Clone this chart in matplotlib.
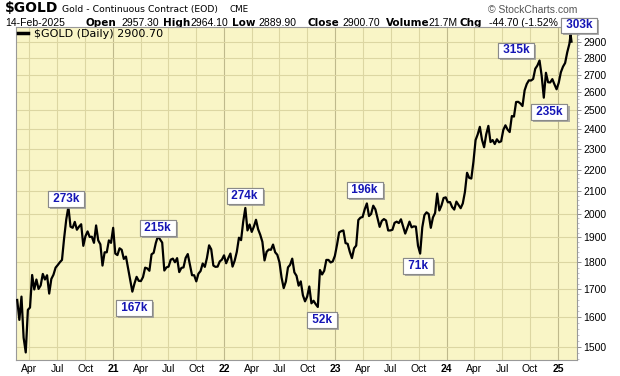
import matplotlib
matplotlib.use('Agg')
import matplotlib.pyplot as plt
import matplotlib.ticker as mticker
import matplotlib.patheffects as pe
import numpy as np
import pandas as pd

plt.rcParams['font.family'] = ['Liberation Sans', 'DejaVu Sans']

# weekly closes (Fridays)
gold_2020 = [1660, 1590,
             1672, 1530, 1482, 1625,
             1633, 1752, 1698, 1735,
             1700, 1713, 1756, 1735, 1751,
             1683, 1737, 1753, 1780,
             1790, 1801, 1810, 1897, 1975,
             2030, 1945, 1940, 1965,
             1932, 1945, 1955, 1866,
             1905, 1925, 1902, 1903, 1878,
             1950, 1888, 1872, 1788,
             1840, 1840, 1888, 1878]
gold_2021 = [1940, 1835, 1829, 1856, 1850,
             1814, 1823, 1777, 1734,
             1690, 1720, 1745, 1730,
             1729, 1744, 1780, 1777, 1768,
             1832, 1838, 1877, 1905,
             1892, 1879, 1769, 1781,
             1784, 1811, 1815, 1801, 1817,
             1763, 1779, 1781, 1818,
             1833, 1792, 1751, 1751,
             1728, 1757, 1767, 1796, 1783,
             1818, 1868, 1852, 1788,
             1783, 1784, 1804, 1811, 1828]
gold_2022 = [1797, 1817, 1835, 1784,
             1807, 1842, 1899, 1889,
             1966, 2025, 1929, 1954,
             1923, 1945, 1974, 1934, 1911,
             1882, 1808, 1842, 1851,
             1850, 1871, 1840, 1830,
             1801, 1742, 1703, 1727, 1781,
             1791, 1815, 1762, 1749,
             1712, 1728, 1677, 1655, 1672,
             1709, 1648, 1657, 1645,
             1635, 1771, 1754, 1768,
             1810, 1810, 1800, 1804, 1826]
gold_2023 = [1870, 1921, 1926, 1929,
             1877, 1874, 1842, 1817,
             1856, 1867, 1973, 1983, 1986,
             2019, 2045, 1990, 1999,
             2035, 2019, 1981, 1944,
             1969, 1977, 1971, 1929, 1929,
             1932, 1961, 1966, 1960,
             1976, 1946, 1916, 1940,
             1966, 1942, 1946, 1945, 1866,
             1835, 1942, 1994, 2006,
             1999, 1940, 1984, 2003,
             2089, 2014, 2036, 2069, 2072]
gold_2024 = [2050, 2051, 2029, 2018,
             2053, 2038, 2024, 2045,
             2096, 2185, 2161, 2158, 2238,
             2345, 2374, 2413, 2347,
             2309, 2375, 2418, 2335, 2345,
             2325, 2349, 2334, 2339,
             2397, 2421, 2399, 2386,
             2470, 2467, 2546, 2547, 2538,
             2524, 2611, 2647, 2668,
             2667, 2676, 2736, 2755,
             2785, 2694, 2570, 2712, 2657,
             2656, 2675, 2645, 2617]
gold_2025 = [2654, 2715, 2748, 2770, 2835, 2887]
last_dates = ['2025-02-11', '2025-02-14']
last_prices = [2945, 2900.70]

label_text = ['273k', '167k', '215k', '274k', '52k', '196k', '71k', '315k', '235k', '303k']
label_dates = ['2020-07-30', '2021-03-10', '2021-05-28', '2022-03-09', '2022-11-17',
               '2023-04-07', '2023-09-28', '2024-08-16', '2024-12-03', '2025-03-11']
label_levels = [2065, 1632, 1940, 2078, 1590, 2105, 1787, 2847, 2491, 3004]

y_ticks = list(range(1500, 3000, 100))

weekly = gold_2020 + gold_2021 + gold_2022 + gold_2023 + gold_2024 + gold_2025
dates = pd.date_range('2020-02-21', periods=len(weekly), freq='W-FRI')
dates = dates.append(pd.to_datetime(last_dates))
prices = np.array(weekly + last_prices, dtype=float)

W, H = 620, 376
fig = plt.figure(figsize=(W / 100, H / 100), dpi=100)
ax = fig.add_axes([16 / W, 1 - 360 / H, 561 / W, 333 / H])
ax.set_zorder(10)
ax.set_facecolor('#F9F5C6')

ax.plot(dates, prices, color='black', lw=1.6, label='$GOLD (Daily) 2900.70', zorder=3)

ax.set_yscale('log')
ax.set_ylim(1458, 2994)
ax.yaxis.set_major_locator(mticker.FixedLocator(y_ticks))
ax.yaxis.set_major_formatter(mticker.FuncFormatter(lambda v, p: '%d' % v))
ax.yaxis.set_minor_locator(mticker.FixedLocator(range(1460, 3000, 20)))
ax.yaxis.set_minor_formatter(mticker.NullFormatter())
ax.yaxis.tick_right()
ax.tick_params(axis='y', which='major', labelsize=7.5, length=3, width=0.6, color='#777777', pad=1.5)
ax.tick_params(axis='y', which='minor', length=1.5, width=0.5, color='#aaaaaa')

ax.set_xlim(pd.Timestamp('2020-02-17'), pd.Timestamp('2025-03-04'))
quarters = pd.date_range('2020-04-01', '2025-01-01', freq='QS')
ax.set_xticks(quarters)
ax.set_xticklabels([q.strftime('%y') if q.month == 1 else q.strftime('%b') for q in quarters])
for q, lab in zip(quarters, ax.get_xticklabels()):
    if q.month == 1:
        lab.set_fontweight('bold')
ax.tick_params(axis='x', labelsize=7.5, length=0, pad=3)

ax.grid(True, which='major', color='#DCD6A2', lw=0.8)
ax.set_axisbelow(True)
for q, gl in zip(quarters, ax.get_xgridlines()):
    if q.month == 1:
        gl.set_color('#BFB98C')

for s in ax.spines.values():
    s.set_color('#999999')
    s.set_linewidth(0.8)

leg = ax.legend(loc='upper left', frameon=False, handlelength=0.9, handletextpad=0.5,
                borderaxespad=0.1, borderpad=0.1, prop={'family': 'DejaVu Sans', 'size': 8})
leg.get_lines()[0].set_linewidth(2.5)

for txt, d, lvl in zip(label_text, label_dates, label_levels):
    t = ax.annotate(' ' + txt + ' ', xy=(pd.Timestamp(d), lvl), ha='center', va='center',
                    fontsize=8.5, fontweight='bold', color='#1515B5',
                    annotation_clip=False, zorder=6,
                    bbox=dict(boxstyle='square,pad=0.15', fc='white', ec='#8a8a8a', lw=0.8))
    t.get_bbox_patch().set_path_effects([
        pe.withSimplePatchShadow(offset=(1.5, -1.5), shadow_rgbFace='#9a9a9a', alpha=0.8),
        pe.Normal()])

# header
def px(x, y):
    return x / W, 1 - y / H

fig.text(*px(5, 12.5), '$GOLD', fontsize=10, fontweight='bold', family='DejaVu Sans', va='baseline')
fig.text(*px(62, 12), 'Gold - Continuous Contract (EOD)', fontsize=6.7, family='DejaVu Sans', va='baseline')
fig.text(*px(230, 12), 'CME', fontsize=6.3, family='DejaVu Sans', va='baseline')
fig.text(*px(488, 10), '\u00a9 StockCharts.com', fontsize=7.5, color='#555555', va='center')

header2 = [('14-Feb-2025', False, 5), ('Open', True, 86), ('2957.30', False, 121),
           ('High', True, 163), ('2964.10', False, 190), ('Low', True, 232),
           ('2889.90', False, 258), ('Close', True, 307), ('2900.70', False, 342),
           ('Volume', True, 386), ('21.7M', False, 428), ('Chg', True, 460),
           ('-44.70 (-1.52%', False, 489)]
for s, bold, x in header2:
    if bold:
        fig.text(*px(x, 23), s, fontsize=7.5, fontweight='bold', family='DejaVu Sans', va='center')
    else:
        fig.text(*px(x, 23), s, fontsize=7.5, va='center')

fig.savefig('out.png', dpi=100, facecolor='white')
